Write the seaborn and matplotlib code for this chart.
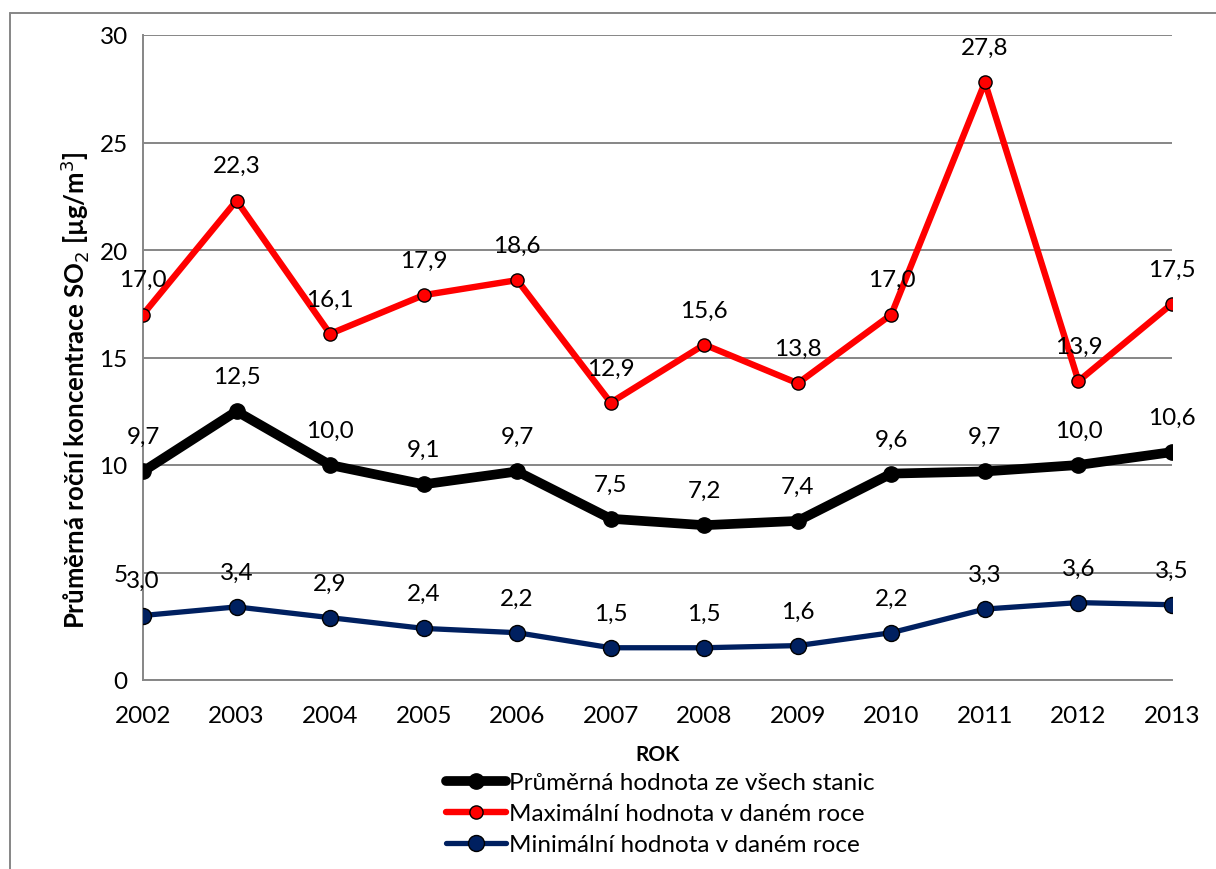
import matplotlib
matplotlib.use("Agg")
import matplotlib.pyplot as plt
from matplotlib.lines import Line2D
import seaborn as sns
import pandas as pd

years = [2002, 2003, 2004, 2005, 2006, 2007, 2008, 2009, 2010, 2011, 2012, 2013]
mean_vals = [9.7, 12.5, 10.0, 9.1, 9.7, 7.5, 7.2, 7.4, 9.6, 9.7, 10.0, 10.6]
max_vals = [17.0, 22.3, 16.1, 17.9, 18.6, 12.9, 15.6, 13.8, 17.0, 27.8, 13.9, 17.5]
min_vals = [3.0, 3.4, 2.9, 2.4, 2.2, 1.5, 1.5, 1.6, 2.2, 3.3, 3.6, 3.5]

series_names = [
    "Průměrná hodnota ze všech stanic",
    "Maximální hodnota v daném roce",
    "Minimální hodnota v daném roce",
]

sns.set_theme(style="white")
plt.rcParams["font.family"] = ["Lato", "DejaVu Sans"]
plt.rcParams["text.color"] = "black"
plt.rcParams["axes.labelcolor"] = "black"

GRID = "#868686"
FS = 17.5
fig = plt.figure(figsize=(12.16, 8.70), dpi=100)
ax = fig.add_axes([143 / 1216, 1 - 681 / 870, (1172 - 143) / 1216, (681 - 36) / 870])

styles = [
    dict(vals=mean_vals, color="black", lw=7.0, ms=11, mfc="black", mec="black"),
    dict(vals=max_vals, color="#FF0000", lw=4.6, ms=9.5, mfc="#FF0000", mec="black"),
    dict(vals=min_vals, color="#002060", lw=3.8, ms=11.5, mfc="#002060", mec="black"),
]

for name, st in zip(series_names, styles):
    df = pd.DataFrame({"year": years, "value": st["vals"]})
    sns.lineplot(data=df, x="year", y="value", ax=ax, color=st["color"],
                 linewidth=st["lw"], marker="o", markersize=st["ms"],
                 markerfacecolor=st["mfc"], markeredgecolor=st["mec"],
                 markeredgewidth=1.0, label=name, legend=False, zorder=3)
    for x, v in zip(years, st["vals"]):
        ax.annotate(f"{v:.1f}".replace(".", ","), (x, v), xytext=(0, 25),
                    textcoords="offset points", ha="center", va="center",
                    fontsize=FS, color="black", zorder=4)

ax.set_xlim(2002, 2013)
ax.set_ylim(0, 30)
ax.set_xticks(years)
ax.set_xticklabels([str(y) for y in years])
ax.set_yticks(range(0, 31, 5))
ax.yaxis.grid(True, color=GRID, linewidth=1.4)
ax.xaxis.grid(False)
for side in ("top", "right"):
    ax.spines[side].set_visible(False)
for side in ("left", "bottom"):
    ax.spines[side].set_color(GRID)
    ax.spines[side].set_linewidth(1.4)
ax.tick_params(axis="both", which="major", length=6, width=1.4, color=GRID,
               labelsize=FS, labelcolor="black", direction="out")
ax.tick_params(axis="x", pad=12)
ax.tick_params(axis="y", pad=5)
ax.set_xlabel("ROK", fontsize=15, fontweight="bold")
ax.xaxis.set_label_coords(0.5, -(745 - 681) / 645, transform=ax.transAxes)
ax.set_ylabel("Průměrná roční koncentrace SO$_2$ [µg/m$^3$]", fontsize=18.5,
              fontweight="bold", va="center")
ax.yaxis.set_label_coords(-(143 - 75) / 1029, (681 - 390) / 645, transform=ax.transAxes)

handles = [
    Line2D([0], [0], color=st["color"], lw=st["lw"], marker="o", markersize=st["ms"],
           markerfacecolor=st["mfc"], markeredgecolor=st["mec"], markeredgewidth=1.0)
    for st in styles
]
fig.legend(handles, series_names, loc="upper center", bbox_to_anchor=(660 / 1216, 1 - 756 / 870),
           frameon=False, fontsize=FS, handlelength=2.5, handletextpad=0.1,
           labelspacing=0.42, borderpad=0.2, labelcolor="black")

# outer chart frame
fig.add_artist(Line2D([10 / 1216, 1], [1 - 14 / 870, 1 - 14 / 870], color=GRID, lw=1.4,
                      transform=fig.transFigure))
fig.add_artist(Line2D([10 / 1216, 10 / 1216], [0, 1 - 14 / 870], color=GRID, lw=1.4,
                      transform=fig.transFigure))

fig.savefig("out.png", dpi=100, facecolor="white")
